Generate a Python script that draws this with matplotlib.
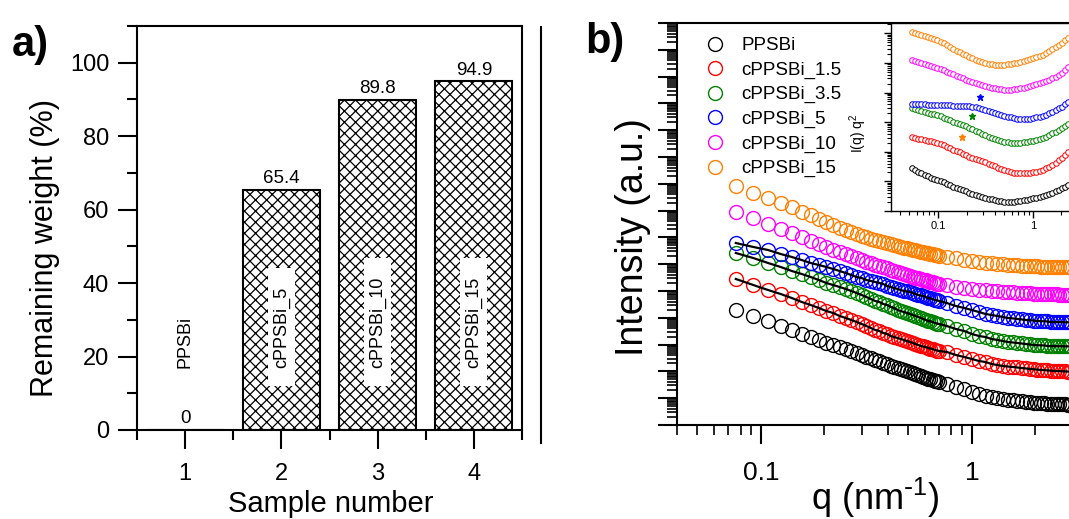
import matplotlib
matplotlib.use('Agg')
import matplotlib.pyplot as plt
from matplotlib import ticker
from matplotlib.patches import Rectangle
from matplotlib.lines import Line2D

plt.rcParams['font.family'] = ['Liberation Sans', 'DejaVu Sans']
plt.rcParams['mathtext.default'] = 'regular'
plt.rcParams['hatch.linewidth'] = 0.9

# a) remaining weight after TGA
sample_no = [1, 2, 3, 4]
remaining = [0, 65.4, 89.8, 94.9]
sample_names = ['PPSBi', 'cPPSBi_5', 'cPPSBi_10', 'cPPSBi_15']

# b) SAXS curves, stacked, arbitrary units
q = [0.076, 0.092, 0.108, 0.124, 0.140, 0.156, 0.172, 0.188, 0.204, 0.220,
     0.236, 0.252, 0.268, 0.284, 0.300, 0.316, 0.332, 0.348, 0.364, 0.380,
     0.396, 0.412, 0.428, 0.444, 0.460, 0.476, 0.492, 0.508, 0.524, 0.540,
     0.556, 0.572, 0.588, 0.604, 0.620, 0.636, 0.652, 0.668, 0.684, 0.700,
     0.76, 0.84, 0.92, 1.00, 1.08, 1.16, 1.24, 1.32, 1.40, 1.48,
     1.56, 1.64, 1.72, 1.80, 1.88, 1.96, 2.04, 2.12, 2.20, 2.28,
     2.36, 2.44, 2.52, 2.60, 2.68, 2.76, 2.84, 2.92]

I_ppsbi = [1.95e4, 1.17e4, 7.60e3, 4.94e3, 3.51e3, 2.49e3, 1.92e3, 1.49e3, 1.15e3, 966,
           813, 685, 577, 486, 409, 344, 316, 266, 244, 206,
           189, 159, 146, 134, 123, 113, 104, 95.0, 87.1, 80.0,
           73.4, 67.3, 61.8, 56.7, 54.0, 52.0, 47.8, 43.8, 42.0, 40.2,
           33.9, 26.2, 22.0, 17.0, 14.4, 12.1, 11.1, 10.2, 9.33, 8.57,
           8.3, 7.87, 7.6, 7.21, 7.0, 6.9, 6.62, 6.5, 6.4, 6.3,
           6.3, 6.08, 6.0, 5.95, 5.9, 5.85, 5.8, 5.8]
I_c1_5 = [2.81e5, 1.67e5, 1.09e5, 7.73e4, 5.48e4, 3.89e4, 3.01e4, 2.32e4, 1.79e4, 1.51e4,
          1.17e4, 9.84e3, 8.28e3, 6.97e3, 5.87e3, 4.94e3, 4.16e3, 3.51e3, 3.21e3, 2.71e3,
          2.49e3, 2.09e3, 1.92e3, 1.76e3, 1.62e3, 1.49e3, 1.36e3, 1.25e3, 1.15e3, 1.05e3,
          966, 887, 850, 813, 746, 710, 685, 629, 600, 577,
          530, 409, 344, 290, 244, 224, 189, 173, 159, 152,
          146, 140, 134, 129, 123, 120, 117, 113, 111, 109,
          107, 104, 103, 102, 101, 100, 99.0, 98.0]
I_c3_5 = [2.62e6, 1.70e6, 1.11e6, 7.87e5, 5.57e5, 4.31e5, 3.33e5, 2.57e5, 1.99e5, 1.67e5,
          1.41e5, 1.19e5, 1.00e5, 8.42e4, 7.10e4, 5.97e4, 5.02e4, 4.24e4, 3.89e4, 3.27e4,
          3.01e4, 2.53e4, 2.32e4, 1.95e4, 1.79e4, 1.64e4, 1.51e4, 1.39e4, 1.27e4, 1.17e4,
          1.07e4, 9.84e3, 9.02e3, 8.28e3, 7.60e3, 7.30e3, 6.97e3, 6.40e3, 6.10e3, 5.87e3,
          4.94e3, 3.82e3, 3.21e3, 2.49e3, 2.09e3, 1.92e3, 1.62e3, 1.49e3, 1.36e3, 1.25e3,
          1.20e3, 1.15e3, 1.10e3, 1.05e3, 1.01e3, 966, 950, 940, 930, 887,
          880, 880, 870, 870, 870, 860, 860, 860]
I_c5 = [6.18e6, 4.39e6, 3.39e6, 2.40e6, 1.86e6, 1.43e6, 1.11e6, 9.33e5, 7.87e5, 6.62e5,
        5.57e5, 4.70e5, 3.95e5, 3.33e5, 3.05e5, 2.57e5, 2.36e5, 2.17e5, 1.99e5, 1.82e5,
        1.54e5, 1.41e5, 1.29e5, 1.19e5, 1.09e5, 1.00e5, 9.60e4, 9.18e4, 8.42e4, 7.73e4,
        7.10e4, 6.80e4, 6.50e4, 5.97e4, 5.48e4, 5.25e4, 5.02e4, 4.61e4, 4.45e4, 4.24e4,
        3.56e4, 2.75e4, 2.32e4, 1.95e4, 1.64e4, 1.39e4, 1.27e4, 1.17e4, 1.07e4, 9.84e3,
        9.50e3, 9.02e3, 8.70e3, 8.28e3, 8.10e3, 7.90e3, 7.60e3, 7.50e3, 7.40e3, 7.30e3,
        7.00e3, 6.97e3, 6.90e3, 6.90e3, 6.90e3, 6.80e3, 6.80e3, 6.80e3]
I_c10 = [8.87e7, 5.30e7, 3.16e7, 2.06e7, 1.46e7, 1.04e7, 7.34e6, 5.68e6, 4.39e6, 3.39e6,
         2.85e6, 2.40e6, 2.02e6, 1.70e6, 1.43e6, 1.21e6, 1.11e6, 9.33e5, 8.57e5, 7.87e5,
         7.21e5, 6.08e5, 5.57e5, 5.12e5, 4.70e5, 4.31e5, 3.95e5, 3.63e5, 3.33e5, 3.05e5,
         2.93e5, 2.81e5, 2.57e5, 2.47e5, 2.36e5, 2.17e5, 2.08e5, 1.99e5, 1.90e5, 1.82e5,
         1.67e5, 1.41e5, 1.29e5, 1.19e5, 1.09e5, 1.05e5, 1.00e5, 9.6e4, 9.2e4, 9.0e4,
         8.8e4, 8.4e4, 8.3e4, 8.2e4, 8.1e4, 8.0e4, 7.7e4, 7.7e4, 7.6e4, 7.6e4,
         7.5e4, 7.5e4, 7.5e4, 7.4e4, 7.4e4, 7.4e4, 7.3e4, 7.3e4]
I_c15 = [8.28e8, 4.54e8, 2.95e8, 1.92e8, 1.36e8, 8.87e7, 6.85e7, 4.86e7, 3.76e7, 2.90e7,
         2.24e7, 1.89e7, 1.59e7, 1.34e7, 1.13e7, 1.04e7, 8.71e6, 8.00e6, 7.34e6, 6.73e6,
         6.18e6, 5.68e6, 5.20e6, 4.78e6, 4.39e6, 4.18e6, 4.00e6, 3.75e6, 3.52e6, 3.33e6,
         3.14e6, 2.97e6, 2.82e6, 2.68e6, 2.55e6, 2.43e6, 2.33e6, 2.23e6, 2.13e6, 2.04e6,
         1.86e6, 1.70e6, 1.43e6, 1.32e6, 1.21e6, 1.13e6, 1.08e6, 1.03e6, 9.9e5, 9.5e5,
         9.2e5, 9.0e5, 8.8e5, 8.6e5, 8.5e5, 8.4e5, 8.3e5, 8.2e5, 8.1e5, 8.0e5,
         7.9e5, 7.9e5, 7.8e5, 7.8e5, 7.8e5, 7.7e5, 7.7e5, 7.7e5]

# inset: I(q) q^2, stacked
q_in = [0.053, 0.0573, 0.0619, 0.0669, 0.0723, 0.0781, 0.0844, 0.0912, 0.0985, 0.107,
        0.115, 0.124, 0.134, 0.145, 0.157, 0.170, 0.183, 0.198, 0.214, 0.231,
        0.250, 0.270, 0.292, 0.315, 0.341, 0.368, 0.398, 0.430, 0.464, 0.502,
        0.542, 0.586, 0.633, 0.684, 0.739, 0.799, 0.863, 0.933, 1.01, 1.09,
        1.18, 1.27, 1.38, 1.49, 1.61, 1.74, 1.87, 2.03, 2.19, 2.37]
Iq2_ppsbi = [28.4, 24.3, 20.8, 19.2, 16.4, 15.2, 13.0, 12.1, 11.2, 10.3,
             9.55, 8.17, 7.57, 6.47, 5.98, 5.55, 5.13, 4.74, 4.06, 3.76,
             3.48, 3.21, 2.97, 2.75, 2.55, 2.50, 2.36, 2.18, 2.15, 2.01,
             2.00, 2.02, 1.99, 2.18, 2.16, 2.36, 2.34, 2.55, 2.75, 2.73,
             2.97, 3.21, 3.48, 3.76, 4.06, 4.74, 5.13, 5.98, 6.47, 7.57]
Iq2_c1_5 = [316, 292, 271, 268, 251, 232, 230, 214, 199, 184,
            170, 145, 135, 115, 106, 98.5, 84.3, 78.0, 66.8, 61.8,
            57.1, 52.8, 48.9, 45.3, 38.7, 35.8, 33.2, 28.4, 26.2, 24.3,
            22.5, 20.8, 19.2, 19.0, 19.3, 19.1, 19.4, 19.2, 20.8, 20.6,
            22.5, 24.3, 28.4, 30.7, 35.8, 41.9, 52.8, 61.8, 78.0, 98.5]
Iq2_c3_5 = [3.02e3, 2.79e3, 2.58e3, 2.39e3, 2.21e3, 2.05e3, 1.89e3, 1.86e3, 1.75e3, 1.62e3,
            1.39e3, 1.28e3, 1.19e3, 1.02e3, 940, 869, 805, 745, 637, 589,
            505, 467, 400, 370, 316, 292, 271, 251, 232, 214,
            210, 199, 196, 198, 200, 214, 216, 232, 235, 251,
            271, 292, 316, 370, 432, 467, 546, 637, 745, 869]
Iq2_c5 = [4.12e3, 4.10e3, 4.15e3, 4.08e3, 4.05e3, 3.85e3, 3.80e3, 3.83e3, 3.78e3, 3.81e3,
          3.76e3, 3.80e3, 3.74e3, 3.55e3, 3.50e3, 3.54e3, 3.48e3, 3.52e3, 3.47e3, 3.26e3,
          3.22e3, 3.02e3, 2.79e3, 2.58e3, 2.39e3, 2.21e3, 2.05e3, 1.89e3, 1.75e3, 1.62e3,
          1.50e3, 1.48e3, 1.39e3, 1.28e3, 1.27e3, 1.26e3, 1.28e3, 1.30e3, 1.39e3, 1.50e3,
          1.52e3, 1.62e3, 1.75e3, 2.05e3, 2.21e3, 2.58e3, 3.02e3, 3.26e3, 4.12e3, 4.81e3]
Iq2_c10 = [1.26e5, 1.17e5, 1.08e5, 1.00e5, 9.25e4, 8.55e4, 7.92e4, 7.33e4, 6.78e4, 6.27e4,
           5.80e4, 4.97e4, 4.59e4, 4.25e4, 3.64e4, 3.37e4, 3.11e4, 2.67e4, 2.47e4, 2.28e4,
           2.11e4, 1.95e4, 1.81e4, 1.67e4, 1.55e4, 1.43e4, 1.40e4, 1.32e4, 1.30e4, 1.22e4,
           1.21e4, 1.22e4, 1.32e4, 1.33e4, 1.43e4, 1.45e4, 1.55e4, 1.67e4, 1.81e4, 1.95e4,
           2.11e4, 2.28e4, 2.47e4, 2.67e4, 3.11e4, 3.37e4, 3.94e4, 4.59e4, 5.80e4, 7.33e4]
Iq2_c15 = [1.11e6, 1.03e6, 9.53e5, 8.83e5, 8.17e5, 7.55e5, 6.98e5, 6.47e5, 5.98e5, 5.12e5,
           4.74e5, 4.06e5, 3.47e5, 2.97e5, 2.54e5, 2.35e5, 2.01e5, 1.86e5, 1.60e5, 1.48e5,
           1.26e5, 1.17e5, 1.08e5, 1.00e5, 9.25e4, 9.10e4, 8.55e4, 8.50e4, 8.50e4, 8.60e4,
           9.25e4, 9.30e4, 1.00e5, 1.01e5, 1.08e5, 1.17e5, 1.26e5, 1.36e5, 1.48e5, 1.60e5,
           1.72e5, 1.86e5, 2.17e5, 2.54e5, 2.97e5, 3.47e5, 4.06e5, 4.74e5, 5.98e5, 6.98e5]

# stars marking the shoulders in the inset
star_q = [0.179, 0.228, 0.277]
star_val = [3.16e2, 1.62e3, 7.10e3]
star_colors = ['#FF8000', '#008000', '#0000FF']

labels = ['PPSBi', 'cPPSBi_1.5', 'cPPSBi_3.5', 'cPPSBi_5', 'cPPSBi_10', 'cPPSBi_15']
colors = ['black', '#FF0000', '#008000', '#0000FF', '#FF00FF', '#FF8000']
main_curves = [I_ppsbi, I_c1_5, I_c3_5, I_c5, I_c10, I_c15]
inset_curves = [Iq2_ppsbi, Iq2_c1_5, Iq2_c3_5, Iq2_c5, Iq2_c10, Iq2_c15]
fitted = [I_c1_5, I_c3_5, I_c5]

W, H = 1069, 519


def px_box(left, top, right, bottom):
    # pixel box -> figure fraction [l, b, w, h]
    return [left / W, 1 - bottom / H, (right - left) / W, (bottom - top) / H]


fig = plt.figure(figsize=(W / 100, H / 100), dpi=100)

# ---------------- panel a ----------------
ax_a = fig.add_axes(px_box(137, 26, 522, 430))
bars = ax_a.bar(sample_no, remaining, width=0.8, color='white', edgecolor='black',
                linewidth=1.5, hatch='xxx')
ax_a.bar_label(bars, fmt='%g', padding=2, fontsize=13.5)
ax_a.set_xlim(0.5, 4.5)
ax_a.set_ylim(0, 110)
ax_a.set_xticks(sample_no)
ax_a.xaxis.set_minor_locator(ticker.MultipleLocator(1, offset=0.5))
ax_a.yaxis.set_major_locator(ticker.MultipleLocator(20))
ax_a.yaxis.set_minor_locator(ticker.MultipleLocator(10))
ax_a.tick_params(which='major', direction='out', length=14, width=1.5, labelsize=17, pad=6)
ax_a.tick_params(axis='x', which='major', pad=10)
ax_a.tick_params(which='minor', direction='out', length=7, width=1.5)
for s in ax_a.spines.values():
    s.set_linewidth(1.5)

name_texts = []
for x, name in zip(sample_no, sample_names):
    t = ax_a.text(x, 17, name, rotation=90, ha='center', va='bottom', fontsize=13, zorder=5)
    name_texts.append(t)

# ---------------- panel b ----------------
ax_b = fig.add_axes(px_box(677, 23, 1119.4, 425))
ax_b.set_xscale('log')
ax_b.set_yscale('log')
for I, c, lab in zip(main_curves, colors, labels):
    ax_b.plot(q, I, 'o', mfc='none', mec=c, ms=10, mew=1.0, label=lab)
for I in fitted:
    ax_b.plot(q, I, '-', color='black', lw=1.6, zorder=3)
ax_b.set_xlim(0.04, 5)
ax_b.set_ylim(1, 1e15)

subs = (2, 3, 4, 5, 6, 7, 8, 9)
ax_b.xaxis.set_major_locator(ticker.LogLocator(base=10, numticks=10))
ax_b.xaxis.set_minor_locator(ticker.LogLocator(base=10, subs=subs, numticks=10))
ax_b.xaxis.set_major_formatter(ticker.FuncFormatter(lambda v, p: f'{v:g}'))
ax_b.xaxis.set_minor_formatter(ticker.NullFormatter())
ax_b.yaxis.set_major_locator(ticker.LogLocator(base=10, numticks=20))
ax_b.yaxis.set_minor_locator(ticker.LogLocator(base=10, subs=subs, numticks=20))
ax_b.yaxis.set_major_formatter(ticker.NullFormatter())
ax_b.yaxis.set_minor_formatter(ticker.NullFormatter())
ax_b.tick_params(which='major', direction='out', length=14, width=1.5, labelsize=19, pad=12)
ax_b.tick_params(which='minor', direction='out', length=7, width=1.2)
for s in ax_b.spines.values():
    s.set_linewidth(1.5)

ax_b.legend(loc='upper left', bbox_to_anchor=(706 / W, 1 - 37 / H),
            bbox_transform=fig.transFigure, frameon=False, fontsize=13.5,
            handlelength=1.0, handletextpad=0.9, labelspacing=0.39,
            borderpad=0, borderaxespad=0)

# ---------------- inset ----------------
ax_in = fig.add_axes(px_box(891, 23, 1090, 211))
ax_in.set_xscale('log')
ax_in.set_yscale('log')
for v, c in zip(inset_curves, colors):
    ax_in.plot(q_in, v, 'o', mfc='white', mec=c, ms=4, mew=0.7)
for sq, sv, sc in zip(star_q, star_val, star_colors):
    ax_in.plot(sq, sv, '*', color=sc, ms=5)
ax_in.set_xlim(0.032, 4)
ax_in.set_ylim(1, 2.24e6)
ax_in.xaxis.set_major_locator(ticker.LogLocator(base=10, numticks=10))
ax_in.xaxis.set_minor_locator(ticker.LogLocator(base=10, subs=subs, numticks=10))
ax_in.xaxis.set_major_formatter(ticker.FuncFormatter(lambda v, p: f'{v:g}'))
ax_in.xaxis.set_minor_formatter(ticker.NullFormatter())
ax_in.yaxis.set_major_locator(ticker.LogLocator(base=10, numticks=20))
ax_in.yaxis.set_minor_locator(ticker.LogLocator(base=10, subs=subs, numticks=20))
ax_in.yaxis.set_major_formatter(ticker.NullFormatter())
ax_in.yaxis.set_minor_formatter(ticker.NullFormatter())
ax_in.tick_params(which='major', direction='out', length=5, width=1.0, labelsize=8, pad=2)
ax_in.tick_params(which='minor', direction='out', length=3, width=0.8)
for s in ax_in.spines.values():
    s.set_linewidth(1.0)

# ---------------- text ----------------
fig.text(45 / W, 1 - 248 / H, 'Remaining weight (%)', rotation=90, ha='center', va='center', fontsize=22)
fig.text(331 / W, 1 - 512 / H, 'Sample number', ha='center', va='baseline', fontsize=21)
fig.text(633 / W, 1 - 237 / H, 'Intensity (a.u.)', rotation=90, ha='center', va='center', fontsize=27)
fig.text(875 / W, 1 - 510 / H, r'q (nm$^{\text{-}1}$)', ha='center', va='baseline', fontsize=26)
fig.text(858 / W, 1 - 133 / H, 'I(q) q$^2$', rotation=90, ha='center', va='center', fontsize=10)
fig.text(12 / W, 1 - 45 / H, 'a)', fontsize=30, fontweight='bold', ha='left', va='center')
fig.text(585 / W, 1 - 42 / H, 'b)', fontsize=30, fontweight='bold', ha='left', va='center')
fig.add_artist(Line2D([541 / W, 541 / W], [1 - 27 / H, 1 - 443 / H], color='black', lw=1.5))

# white boxes behind the rotated sample names
fig.canvas.draw()
renderer = fig.canvas.get_renderer()
inv = ax_a.transData.inverted()
for t in name_texts:
    bb = t.get_window_extent(renderer)
    (x0, y0), (x1, y1) = inv.transform([[bb.x0 - 5, bb.y0 - 18], [bb.x1 + 5, bb.y1 + 18]])
    ax_a.add_patch(Rectangle((x0, y0), x1 - x0, y1 - y0, facecolor='white',
                             edgecolor='none', zorder=4))

fig.savefig('out.png', dpi=100)
